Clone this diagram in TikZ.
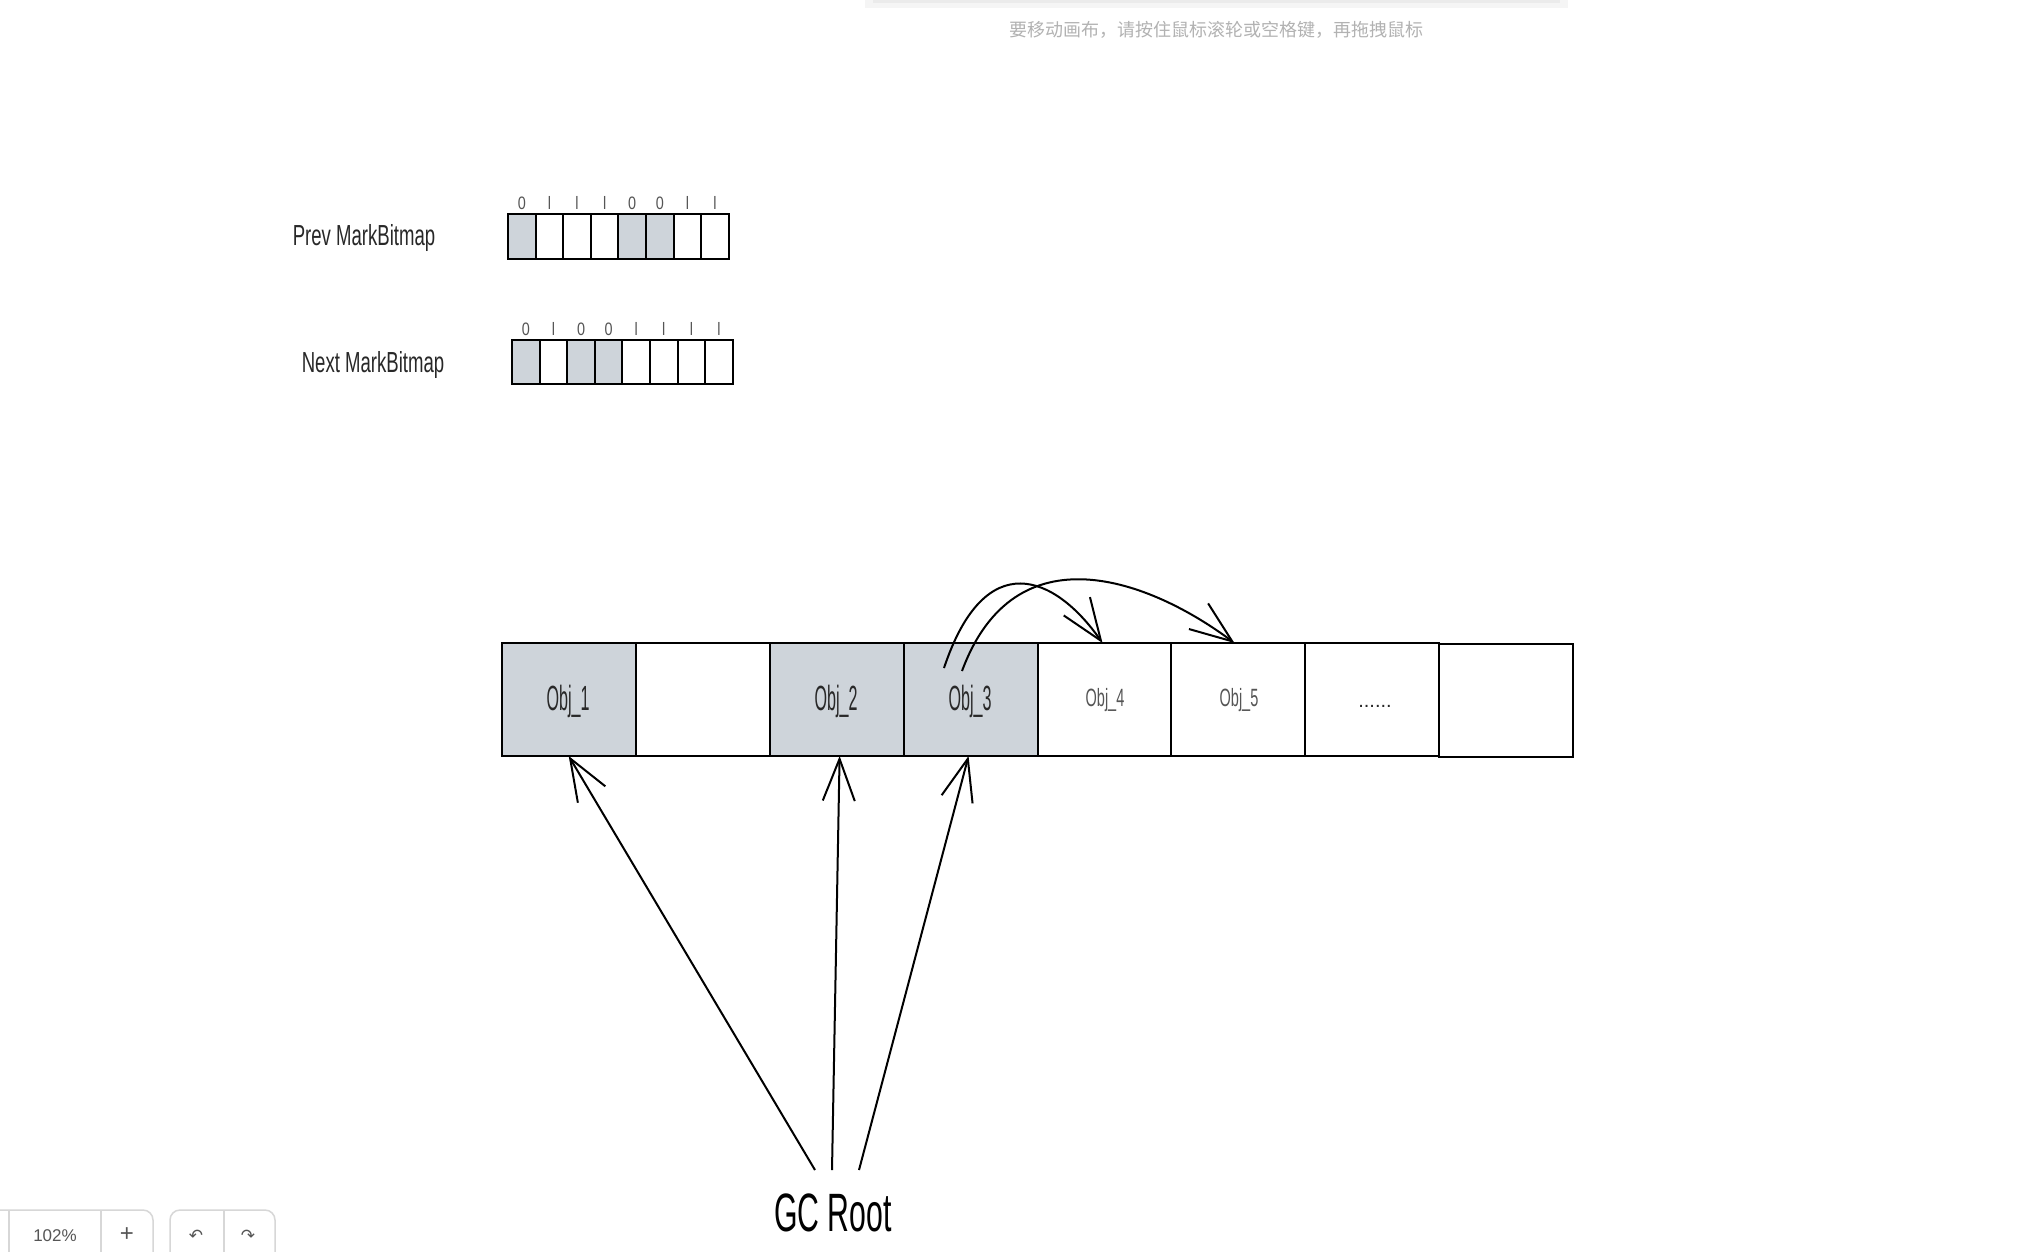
\documentclass[tikz,border=0pt]{standalone}
\usepackage{fontspec}
\usepackage{graphicx}
\setmainfont{Liberation Sans}
\newfontfamily\cjkfont{Noto Sans CJK SC}
\newfontfamily\symfont{DejaVu Sans}
\usetikzlibrary{arrows.meta}
\definecolor{cellgray}{RGB}{206,212,218}
\definecolor{inkdark}{RGB}{40,40,40}
\definecolor{inkmid}{RGB}{85,85,85}
\definecolor{hintgray}{RGB}{178,178,178}
\definecolor{uiline}{RGB}{215,215,215}
\newcommand{\hsq}[2]{\scalebox{#1}[1]{#2}}
\newcommand{\fsz}[1]{\fontsize{#1}{#1}\selectfont}
\begin{document}
\begin{tikzpicture}[x=1pt,y=-1pt,
  bitcell/.style={draw=black, line width=2pt, minimum width=27.6pt, minimum height=44.5pt, inner sep=0pt, outer sep=0pt},
  objcell/.style={draw=black, line width=2pt, minimum width=133.95pt, minimum height=113pt, inner sep=0pt, outer sep=0pt},
  digit/.style={text=inkmid, font=\fsz{18}, inner sep=0pt},
  sidelabel/.style={text=inkdark, font=\fsz{29}, inner sep=0pt},
  objlabel/.style={text=inkdark, font=\fsz{35}, inner sep=0pt},
  objlabelsmall/.style={text=inkmid, font=\fsz{25}, inner sep=0pt},
  ref/.style={draw=black, line width=2pt, -{Straight Barb[length=42pt,width=32pt,line width=2pt]}},
  uibox/.style={draw=uiline, line width=1.5pt, rounded corners=10pt},
  uitext/.style={text=inkmid, font=\fsz{17}, inner sep=0pt}
]
\useasboundingbox (0,0) rectangle (2044,1252);
\fill[white] (0,0) rectangle (2044,1252);

% top hint panel edge and hint text
\fill[black!4] (865,0) rectangle (1568,8);
\fill[black!8] (873,0) rectangle (1560,3);
\node[text=hintgray, font=\cjkfont\fsz{18}, inner sep=0pt] (hint) at (1216,30) {要移动画布，请按住鼠标滚轮或空格键，再拖拽鼠标};

% Prev MarkBitmap
\node[sidelabel] (prevlbl) at (364,238) {\hsq{0.64}{Prev MarkBitmap}};
\foreach \b [count=\i from 0] in {0,1,1,1,0,0,1,1} {
  \pgfmathsetmacro{\cx}{521.8+27.6*\i}
  \ifnum\b=0
    \node[bitcell, fill=cellgray] (pc\i) at (\cx,236.5) {};
  \else
    \node[bitcell, fill=white] (pc\i) at (\cx,236.5) {};
  \fi
  \node[digit] (pd\i) at (\cx,203) {\ifnum\b=0 \hsq{0.8}{0}\else \hsq{0.8}{l}\fi};
}

% Next MarkBitmap
\node[sidelabel] (nextlbl) at (373,365) {\hsq{0.64}{Next MarkBitmap}};
\foreach \b [count=\i from 0] in {0,1,0,0,1,1,1,1} {
  \pgfmathsetmacro{\cx}{525.8+27.6*\i}
  \ifnum\b=0
    \node[bitcell, fill=cellgray] (nc\i) at (\cx,362) {};
  \else
    \node[bitcell, fill=white] (nc\i) at (\cx,362) {};
  \fi
  \node[digit] (nd\i) at (\cx,329) {\ifnum\b=0 \hsq{0.8}{0}\else \hsq{0.8}{l}\fi};
}

% object row
\node[objcell, fill=cellgray] (o1) at (568.7,699.5) {};
\node[objcell, fill=white]    (o2) at (702.65,699.5) {};
\node[objcell, fill=cellgray] (o3) at (836.6,699.5) {};
\node[objcell, fill=cellgray] (o4) at (970.55,699.5) {};
\node[objcell, fill=white]    (o5) at (1104.5,699.5) {};
\node[objcell, fill=white]    (o6) at (1238.45,699.5) {};
\node[objcell, fill=white]    (o7) at (1372.4,699.5) {};
\node[objcell, fill=white]    (o8) at (1506.35,700.2) {};

\node[objlabel] (t1) at (568,701) {\hsq{0.46}{Obj\_1}};
\node[objlabel] (t2) at (836,701) {\hsq{0.46}{Obj\_2}};
\node[objlabel] (t3) at (970,701) {\hsq{0.46}{Obj\_3}};
\node[objlabelsmall] (t4) at (1105,700) {\hsq{0.58}{Obj\_4}};
\node[objlabelsmall] (t5) at (1239,700) {\hsq{0.58}{Obj\_5}};
\node[text=inkdark, font=\fsz{20}, inner sep=0pt] (t7) at (1375,706) {......};

% references between objects
\coordinate (s34) at (944,668);
\coordinate (s35) at (962,671);
\draw[ref] (s34) .. controls (985,545) and (1055,575) .. ([xshift=-2pt]o5.north);
\draw[ref] (s35) .. controls (1015,528) and (1150,580) .. ([xshift=-4pt]o6.north);

% GC Root
\node[text=black, font=\fsz{54}, inner sep=0pt] (gc) at (833,1213) {\hsq{0.56}{GC Root}};
\coordinate (g1) at (815,1170);
\coordinate (g2) at (832,1170);
\coordinate (g3) at (859,1170);
\draw[ref] (g1) -- (o1.south);
\draw[ref] (g2) -- ([xshift=3pt]o3.south);
\draw[ref] (g3) -- ([xshift=-2pt]o4.south);

% bottom-left UI
\draw[uibox] (-10,1210) rectangle (153,1275);
\draw[uiline, line width=1.5pt] (9,1210) -- (9,1252);
\draw[uiline, line width=1.5pt] (101,1210) -- (101,1252);
\draw[uibox] (170,1210) rectangle (275,1275);
\draw[uiline, line width=1.5pt] (224,1210) -- (224,1252);
\node[uitext] (zoomlvl) at (55,1236) {102\%};
\node[uitext, font=\fsz{24}] (zoomin) at (127,1235) {+};
\node[uitext, font=\symfont\fsz{17}] (undo) at (196,1236) {↶};
\node[uitext, font=\symfont\fsz{17}] (redo) at (248,1236) {↷};
\end{tikzpicture}
\end{document}
